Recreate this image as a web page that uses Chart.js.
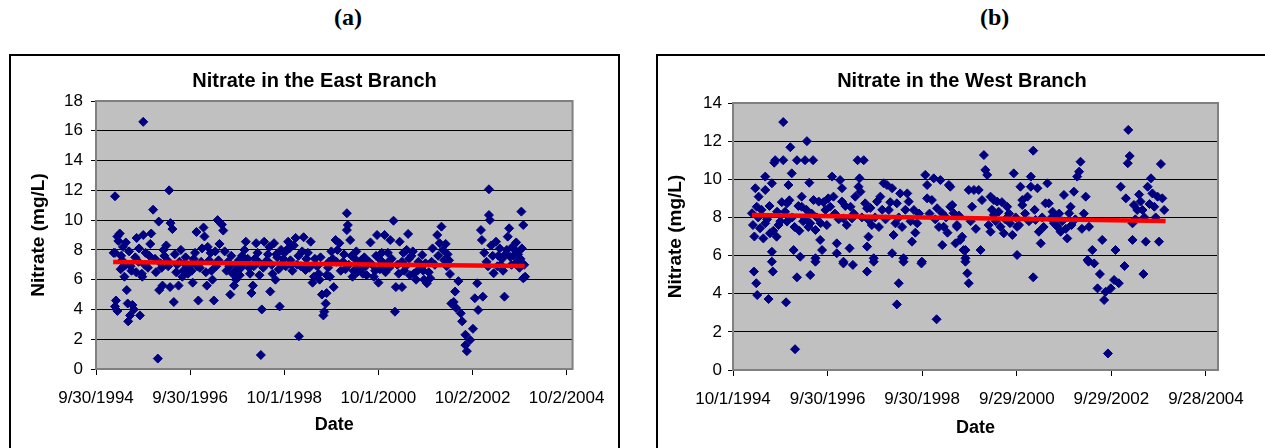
<!DOCTYPE html>
<html>
<head>
<meta charset="utf-8">
<script src="https://cdn.jsdelivr.net/npm/chart.js@4.4.1/dist/chart.umd.min.js"></script>
<style>
html, body { margin: 0; padding: 0; background: #fff; overflow: hidden; }
body { width: 1265px; height: 448px; position: relative; }
.label { position: absolute; top: 4px; line-height: 28px; font: bold 24px "Liberation Serif", "Times New Roman", serif; }
.box { position: absolute; top: 54px; height: 400px; border: 2px solid #000; box-sizing: border-box; }
.box canvas { display: block; }
</style>
</head>
<body>
<div class="label" style="left:334px">(a)</div>
<div class="label" style="left:980px">(b)</div>
<div class="box" style="left:9px;width:611px"><canvas id="east" width="607" height="396"></canvas></div>
<div class="box" style="left:656px;width:612px"><canvas id="west" width="608" height="396"></canvas></div>
<script>
// tick labels of the two date axes (Excel style M/D/YYYY)
var eastTickLabels = ['9/30/1994', '9/30/1996', '10/1/1998', '10/1/2000', '10/2/2002', '10/2/2004'];
var westTickLabels = ['10/1/1994', '9/30/1996', '9/30/1998', '9/29/2000', '9/29/2002', '9/28/2004'];

// samples: [decimal year, nitrate mg/L]
var eastSamples = [
  [1995.12, 7.8], [1995.15, 11.6], [1995.15, 7.8], [1995.17, 4.6], [1995.15, 4.2], [1995.2, 3.9], [1995.2, 8.9],
  [1995.22, 8.6], [1995.25, 9.1], [1995.27, 6.7], [1995.3, 7.3], [1995.32, 8.2], [1995.35, 6.2], [1995.38, 8.5],
  [1995.4, 5.3], [1995.38, 7.0], [1995.42, 4.4], [1995.43, 3.2], [1995.47, 3.6], [1995.5, 6.6], [1995.52, 4.3],
  [1995.55, 4.0], [1995.58, 7.5], [1995.61, 8.8], [1995.65, 7.2], [1995.68, 3.6], [1995.72, 6.4], [1995.73, 6.2],
  [1995.75, 16.6], [1995.75, 9.0], [1995.8, 7.8], [1995.85, 6.8], [1995.9, 8.4], [1995.92, 9.1], [1995.96, 10.7],
  [1996.0, 7.4], [1996.06, 0.7], [1996.08, 9.9], [1996.09, 5.3], [1996.12, 7.1], [1996.16, 5.6], [1996.2, 7.6],
  [1996.24, 8.3], [1996.28, 6.9], [1996.3, 12.0], [1996.32, 5.5], [1996.33, 9.8], [1996.37, 9.4], [1996.4, 4.5],
  [1996.42, 7.7], [1996.45, 6.5], [1996.5, 5.6], [1996.52, 7.2], [1996.55, 8.0], [1996.6, 6.6], [1996.65, 7.5],
  [1996.7, 6.4], [1996.75, 7.0], [1996.8, 5.8], [1996.85, 7.8], [1996.88, 9.2], [1996.92, 4.6], [1996.95, 6.8],
  [1997.0, 8.1], [1997.03, 9.5], [1997.05, 8.9], [1997.1, 5.6], [1997.15, 7.3], [1997.2, 6.6], [1997.25, 4.6],
  [1997.28, 7.9], [1997.3, 6.9], [1997.33, 10.0], [1997.37, 8.4], [1997.42, 9.7], [1997.45, 9.3], [1997.48, 7.9],
  [1997.52, 6.6], [1997.55, 7.2], [1997.6, 5.0], [1997.65, 6.4], [1997.68, 5.6], [1997.72, 6.0], [1997.75, 7.0],
  [1997.8, 6.3], [1997.85, 7.6], [1997.9, 8.0], [1997.93, 8.55], [1998.0, 6.8], [1998.05, 5.1], [1998.08, 5.6],
  [1998.12, 7.4], [1998.15, 8.45], [1998.2, 7.2], [1998.22, 6.3], [1998.25, 0.94], [1998.27, 4.0], [1998.32, 8.55],
  [1998.35, 7.0], [1998.4, 7.7], [1998.45, 5.2], [1998.5, 6.4], [1998.53, 8.45], [1998.56, 6.0], [1998.6, 7.5],
  [1998.65, 4.2], [1998.7, 7.1], [1998.75, 7.8], [1998.8, 8.0], [1998.83, 8.55], [1998.88, 7.3], [1998.92, 6.6],
  [1998.99, 8.8], [1999.05, 7.6], [1999.06, 2.2], [1999.1, 6.9], [1999.16, 8.85], [1999.2, 6.65], [1999.25, 7.8],
  [1999.31, 8.55], [1999.35, 5.8], [1999.4, 7.4], [1999.45, 6.9], [1999.5, 6.0], [1999.55, 5.0], [1999.58, 3.6],
  [1999.6, 3.85], [1999.63, 4.4], [1999.65, 5.1], [1999.65, 6.3], [1999.7, 7.2], [1999.75, 7.9], [1999.8, 5.5],
  [1999.84, 8.66], [1999.88, 8.0], [1999.92, 8.45], [2000.0, 7.2], [2000.05, 6.7], [2000.08, 10.46], [2000.1, 9.67],
  [2000.08, 9.33], [2000.15, 8.66], [2000.2, 6.2], [2000.25, 7.4], [2000.3, 6.5], [2000.35, 7.0], [2000.4, 6.8],
  [2000.45, 7.5], [2000.5, 6.3], [2000.58, 8.5], [2000.62, 7.0], [2000.68, 6.6], [2000.72, 9.0], [2000.75, 5.8],
  [2000.8, 7.3], [2000.84, 6.9], [2000.88, 9.0], [2000.95, 7.8], [2001.0, 8.66], [2001.07, 9.96], [2001.1, 3.85],
  [2001.12, 5.5], [2001.2, 8.55], [2001.25, 7.2], [2001.25, 5.5], [2001.3, 6.6], [2001.35, 8.0], [2001.38, 9.07],
  [2001.45, 7.6], [2001.5, 6.4], [2001.55, 6.0], [2001.6, 7.2], [2001.68, 7.66], [2001.72, 6.0], [2001.78, 5.76],
  [2001.85, 6.1], [2001.9, 8.1], [2002.0, 9.0], [2002.05, 8.45], [2002.09, 9.56], [2002.15, 7.3], [2002.2, 6.9],
  [2002.27, 6.38], [2002.3, 4.4], [2002.35, 4.5], [2002.38, 5.2], [2002.4, 4.1], [2002.45, 5.9], [2002.5, 3.74],
  [2002.53, 3.2], [2002.6, 2.3], [2002.6, 1.6], [2002.63, 1.2], [2002.7, 1.95], [2002.76, 2.7], [2002.8, 4.75],
  [2002.85, 5.76], [2002.87, 3.96], [2002.93, 9.33], [2002.95, 8.66], [2002.97, 4.86], [2003.05, 7.2],
  [2003.1, 12.07], [2003.1, 10.34], [2003.12, 10.0], [2003.2, 6.43], [2003.25, 8.55], [2003.3, 7.6], [2003.35, 7.0],
  [2003.43, 4.86], [2003.48, 8.0], [2003.5, 8.89], [2003.53, 9.45], [2003.55, 7.54], [2003.6, 8.21], [2003.65, 8.0],
  [2003.7, 7.2], [2003.75, 6.8], [2003.79, 10.57], [2003.83, 9.67], [2003.83, 6.09], [2003.85, 7.0],
  [1995.28, 7.6], [1995.33, 6.9], [1995.45, 7.9], [1995.48, 6.9], [1995.6, 6.5], [1995.66, 8.1], [1995.78, 7.0],
  [1995.88, 7.6], [1996.02, 6.5], [1996.14, 6.8], [1996.18, 8.0], [1996.26, 7.3], [1996.47, 7.0], [1996.58, 6.2],
  [1996.62, 7.1], [1996.68, 6.8], [1996.78, 6.6], [1996.82, 7.4], [1996.9, 6.9], [1996.98, 7.2], [1997.08, 6.5],
  [1997.12, 8.2], [1997.18, 7.8], [1997.22, 6.0], [1997.35, 7.3], [1997.58, 6.9], [1997.62, 7.6], [1997.7, 6.6],
  [1997.78, 7.3], [1997.83, 6.8], [1997.88, 7.1], [1997.97, 7.4], [1998.02, 6.4], [1998.1, 6.9], [1998.18, 7.8],
  [1998.3, 6.8], [1998.38, 7.3], [1998.43, 8.2], [1998.48, 7.0], [1998.58, 7.7], [1998.63, 6.7], [1998.68, 8.0],
  [1998.73, 7.4], [1998.78, 6.9], [1998.86, 8.1], [1998.9, 7.0], [1998.95, 8.3], [1999.02, 7.0], [1999.13, 7.9],
  [1999.22, 7.4], [1999.28, 6.8], [1999.38, 6.2], [1999.42, 7.0], [1999.48, 6.4], [1999.52, 7.5], [1999.68, 6.8],
  [1999.72, 6.2], [1999.78, 7.4], [1999.86, 7.2], [1999.95, 6.6], [2000.02, 7.7], [2000.12, 7.0], [2000.18, 7.6],
  [2000.22, 6.6], [2000.28, 7.9], [2000.32, 6.9], [2000.38, 7.3], [2000.42, 6.4], [2000.48, 6.9], [2000.55, 7.2],
  [2000.65, 6.2], [2000.7, 7.6], [2000.78, 6.7], [2000.82, 7.8], [2000.9, 6.5], [2000.93, 7.1], [2000.98, 6.8],
  [2001.03, 7.4], [2001.15, 7.0], [2001.18, 6.4], [2001.28, 7.8], [2001.33, 6.9], [2001.4, 7.4], [2001.42, 6.3],
  [2001.48, 7.9], [2001.58, 6.6], [2001.63, 7.0], [2001.7, 6.6], [2001.75, 7.1], [2001.82, 6.5], [2001.88, 7.2],
  [2001.95, 7.0], [2002.02, 7.6], [2002.12, 8.0], [2002.18, 8.4], [2002.22, 7.7], [2002.25, 7.3], [2003.0, 7.8],
  [2003.08, 6.9], [2003.15, 8.3], [2003.18, 7.6], [2003.28, 6.9], [2003.33, 8.1], [2003.38, 7.4], [2003.4, 6.6],
  [2003.45, 7.7], [2003.58, 7.0], [2003.62, 7.6], [2003.68, 8.5], [2003.72, 7.7], [2003.77, 7.4], [2003.8, 8.1],
  [2003.87, 6.2]
];
var westSamples = [
  [1995.15, 8.22], [1995.19, 5.16], [1995.22, 9.53], [1995.24, 4.55], [1995.25, 8.56], [1995.26, 3.93], [1995.29, 9.09],
  [1995.32, 7.43], [1995.39, 6.9], [1995.43, 10.14], [1995.43, 9.44], [1995.43, 7.69], [1995.5, 3.72], [1995.53, 7.17],
  [1995.57, 6.2], [1995.57, 9.79], [1995.57, 5.68], [1995.59, 5.16], [1995.62, 10.87], [1995.64, 11.0], [1995.67, 6.99],
  [1995.71, 7.6], [1995.81, 13.0], [1995.81, 11.0], [1995.87, 3.55], [1995.89, 7.78], [1995.89, 8.74], [1995.92, 9.7],
  [1995.96, 11.68], [1995.99, 10.31], [1996.03, 6.29], [1996.06, 1.09], [1996.1, 11.0], [1996.1, 4.86], [1996.17, 5.94],
  [1996.2, 9.09], [1996.2, 8.56], [1996.27, 11.0], [1996.27, 7.95], [1996.31, 12.0], [1996.36, 9.82], [1996.38, 7.69],
  [1996.38, 4.98], [1996.44, 11.0], [1996.45, 8.91], [1996.49, 7.34], [1996.49, 5.86], [1996.49, 5.68], [1996.56, 8.83],
  [1996.59, 6.82], [1996.63, 6.29], [1996.7, 8.39], [1996.8, 8.56], [1996.84, 10.14], [1996.87, 9.09], [1996.94, 6.64],
  [1996.94, 6.12], [1997.01, 9.96], [1997.05, 9.53], [1997.05, 8.83], [1997.08, 7.95], [1997.08, 5.68], [1997.08, 5.59],
  [1997.21, 6.38], [1997.23, 8.56], [1997.26, 7.95], [1997.28, 5.51], [1997.33, 9.09], [1997.38, 11.0], [1997.4, 9.61],
  [1997.42, 10.05], [1997.44, 9.35], [1997.51, 11.0], [1997.54, 8.74], [1997.58, 8.48], [1997.58, 6.47], [1997.58, 5.16],
  [1997.61, 7.87], [1997.61, 6.99], [1997.72, 5.86], [1997.72, 5.68], [1997.79, 8.83], [1997.86, 9.09], [1997.93, 9.79],
  [1998.0, 9.7], [1998.04, 8.39], [1998.11, 9.53], [1998.11, 6.12], [1998.14, 7.08], [1998.18, 7.69], [1998.21, 8.74],
  [1998.21, 3.44], [1998.25, 4.55], [1998.28, 9.26], [1998.35, 5.86], [1998.35, 5.68], [1998.43, 9.26], [1998.46, 8.83],
  [1998.53, 6.73], [1998.57, 8.39], [1998.64, 7.69], [1998.73, 5.59], [1998.74, 5.68], [1998.81, 10.23], [1998.85, 9.7],
  [1998.85, 9.0], [1998.95, 8.91], [1998.99, 10.05], [1999.05, 2.66], [1999.06, 8.48], [1999.13, 9.96], [1999.17, 8.22],
  [1999.17, 6.55], [1999.2, 7.51], [1999.31, 9.7], [1999.34, 8.56], [1999.34, 9.61], [1999.38, 8.65], [1999.41, 8.22],
  [1999.45, 6.64], [1999.48, 7.6], [1999.48, 7.51], [1999.55, 6.82], [1999.59, 6.99], [1999.62, 6.29], [1999.66, 5.86],
  [1999.66, 6.29], [1999.66, 5.68], [1999.7, 5.07], [1999.73, 9.44], [1999.73, 4.55], [1999.8, 8.56], [1999.84, 9.44],
  [1999.94, 9.44], [1999.98, 6.29], [2000.01, 8.91], [2000.05, 11.27], [2000.08, 10.49], [2000.12, 10.23], [2000.15, 7.6],
  [2000.19, 9.09], [2000.19, 7.25], [2000.26, 8.91], [2000.26, 8.13], [2000.33, 8.83], [2000.4, 7.51], [2000.47, 7.17],
  [2000.54, 8.56], [2000.65, 7.08], [2000.68, 10.31], [2000.75, 7.51], [2000.75, 6.03], [2000.82, 9.61], [2000.86, 8.91],
  [2000.86, 8.65], [2000.97, 9.09], [2001.04, 10.14], [2001.04, 9.61], [2001.09, 11.5], [2001.09, 4.86], [2001.14, 7.87],
  [2001.18, 9.53], [2001.21, 7.25], [2001.25, 6.64], [2001.35, 8.74], [2001.39, 9.79], [2001.42, 8.74], [2001.46, 7.95],
  [2001.53, 7.69], [2001.6, 7.51], [2001.67, 7.25], [2001.74, 9.18], [2001.81, 6.9], [2001.85, 8.22], [2001.88, 8.56],
  [2001.9, 7.6], [2001.95, 9.35], [2001.98, 7.9], [2002.02, 10.14], [2002.06, 10.4], [2002.09, 10.92], [2002.12, 7.4],
  [2002.16, 8.2], [2002.2, 9.09], [2002.24, 5.77], [2002.26, 5.68], [2002.27, 7.51], [2002.34, 6.29], [2002.38, 5.59],
  [2002.45, 4.28], [2002.5, 5.03], [2002.55, 6.82], [2002.59, 3.67], [2002.62, 4.1], [2002.67, 0.87], [2002.73, 4.28],
  [2002.8, 4.72], [2002.83, 6.29], [2002.9, 4.55], [2002.94, 9.61], [2003.02, 5.45], [2003.05, 9.0], [2003.09, 10.84],
  [2003.1, 12.59], [2003.13, 11.22], [2003.19, 7.69], [2003.19, 6.82], [2003.22, 8.65], [2003.29, 8.39], [2003.36, 8.83],
  [2003.4, 8.39], [2003.42, 5.03], [2003.47, 6.73], [2003.51, 9.61], [2003.58, 10.05], [2003.61, 9.26], [2003.65, 8.56],
  [2003.72, 9.09], [2003.75, 6.73], [2003.79, 10.8], [2003.86, 8.39],
  [1995.17, 7.6], [1995.2, 7.0], [1995.28, 8.0], [1995.35, 8.4], [1995.47, 7.9], [1995.52, 8.6], [1995.6, 7.3],
  [1995.68, 8.3], [1995.75, 7.8], [1995.78, 8.8], [1995.85, 8.3], [1995.94, 8.9], [1996.0, 8.0], [1996.05, 7.5],
  [1996.13, 8.6], [1996.15, 7.3], [1996.23, 7.8], [1996.3, 8.4], [1996.34, 7.5], [1996.41, 8.2], [1996.52, 8.0],
  [1996.6, 7.7], [1996.66, 8.8], [1996.73, 7.6], [1996.76, 9.0], [1996.9, 8.2], [1996.98, 7.9], [1997.12, 8.6],
  [1997.15, 7.6], [1997.3, 8.2], [1997.47, 8.0], [1997.65, 8.5], [1997.68, 7.6], [1997.75, 8.0], [1997.83, 7.5],
  [1997.9, 8.4], [1997.97, 7.9], [1998.07, 8.8], [1998.25, 8.0], [1998.32, 7.5], [1998.39, 8.4], [1998.5, 7.8],
  [1998.6, 7.2], [1998.68, 8.2], [1998.9, 8.2], [1999.02, 7.9], [1999.1, 7.5], [1999.25, 8.0], [1999.28, 7.2],
  [1999.52, 8.1], [1999.77, 7.8], [1999.88, 7.4], [2000.22, 8.4], [2000.3, 7.8], [2000.36, 8.3], [2000.43, 8.8],
  [2000.5, 7.9], [2000.58, 8.2], [2000.6, 7.7], [2000.72, 8.0], [2000.79, 7.6], [2000.92, 8.2], [2001.0, 7.8],
  [2001.12, 8.4], [2001.28, 8.0], [2001.31, 7.5], [2001.5, 8.3], [2001.57, 8.0], [2001.64, 8.2], [2001.7, 7.8],
  [2001.78, 7.4], [2003.25, 7.9], [2003.33, 9.2], [2003.44, 8.0], [2003.55, 8.7], [2003.68, 8.0], [2003.82, 9.0]
];

// linear trend lines, end points
var eastTrend = [[1995.11, 7.18], [2003.86, 6.92]];
var westTrend = [[1995.15, 8.13], [2003.89, 7.81]];

var FONT = '"Liberation Sans", Arial, sans-serif';

function dayOfDate(s) {
  var p = s.split('/').map(Number);
  return Date.UTC(p[2], p[0] - 1, p[1]) / 864e5;
}
function dayOfYear(t) {
  var y = Math.floor(t);
  var a = Date.UTC(y, 0, 1) / 864e5, b = Date.UTC(y + 1, 0, 1) / 864e5;
  return a + (t - y) * (b - a);
}
function toXY(list) {
  return list.map(function (p) { return { x: dayOfYear(p[0]), y: p[1] }; });
}

// grey plot area with a grey frame, like the Excel chart
var plotFrame = {
  id: 'plotFrame',
  beforeDraw: function (chart) {
    var a = chart.chartArea, ctx = chart.ctx;
    ctx.save();
    ctx.fillStyle = '#c0c0c0';
    ctx.fillRect(a.left, a.top, a.right - a.left, a.bottom - a.top);
    ctx.restore();
  },
  beforeDatasetsDraw: function (chart) {
    var a = chart.chartArea, ctx = chart.ctx;
    ctx.save();
    ctx.strokeStyle = '#808080';
    ctx.lineWidth = 2;
    ctx.strokeRect(a.left, a.top, a.right - a.left, a.bottom - a.top);
    ctx.restore();
  }
};

function makeChart(id, o) {
  var tickDays = o.tickLabels.map(dayOfDate);
  return new Chart(document.getElementById(id), {
    type: 'scatter',
    data: {
      datasets: [{
        data: toXY(o.trend),
        showLine: true,
        borderColor: '#ff0000',
        borderWidth: 4.5,
        pointRadius: 0
      }, {
        data: toXY(o.samples),
        pointStyle: 'rectRot',
        pointRadius: 4.5,
        pointBackgroundColor: '#000080',
        pointBorderColor: '#000080',
        pointBorderWidth: 1
      }]
    },
    options: {
      responsive: false,
      animation: false,
      layout: { padding: 0 },
      plugins: {
        legend: { display: false },
        tooltip: { enabled: false },
        title: {
          display: true,
          text: o.title,
          color: '#000',
          font: { family: FONT, size: 20, weight: 'bold' },
          padding: { top: 13, bottom: o.titleGap }
        }
      },
      scales: {
        x: {
          type: 'linear',
          min: dayOfDate(o.xMin),
          max: dayOfDate(o.xMax),
          afterBuildTicks: function (scale) {
            scale.ticks = tickDays.map(function (v) { return { value: v }; });
          },
          afterFit: function (scale) { scale.height = o.xHeight; },
          ticks: {
            autoSkip: false,
            maxRotation: 0,
            color: '#000',
            padding: 13,
            font: { family: FONT, size: 17 },
            callback: function (v) {
              var i = tickDays.indexOf(v);
              return i >= 0 ? o.tickLabels[i] : '';
            }
          },
          grid: { drawOnChartArea: false, tickLength: 6, tickColor: '#000' },
          border: { color: '#808080', width: 2 },
          title: {
            display: true,
            text: 'Date',
            color: '#000',
            font: { family: FONT, size: 18, weight: 'bold' },
            padding: { top: 0, bottom: o.dateGap }
          }
        },
        y: {
          min: 0,
          max: o.yMax,
          afterFit: function (scale) { scale.width = o.yWidth; },
          ticks: {
            stepSize: 2,
            color: '#000',
            padding: o.yTickPad,
            font: { family: FONT, size: 17 }
          },
          grid: { color: '#000', lineWidth: 1, tickLength: 5 },
          border: { color: '#808080', width: 2 },
          title: {
            display: true,
            text: 'Nitrate (mg/L)',
            color: '#000',
            font: { family: FONT, size: 19, weight: 'bold' },
            padding: { top: o.yTitlePad, bottom: 0 }
          }
        },
        // empty right-hand axis only used to reserve the white margin
        pad: {
          type: 'linear',
          axis: 'y',
          position: 'right',
          ticks: { display: false },
          grid: { display: false },
          border: { display: false },
          afterFit: function (scale) { scale.width = o.rightGap; }
        }
      }
    },
    plugins: [plotFrame]
  });
}

makeChart('east', {
  title: 'Nitrate in the East Branch',
  samples: eastSamples, trend: eastTrend, tickLabels: eastTickLabels,
  xMin: '9/30/1994', xMax: '11/17/2004', yMax: 18,
  titleGap: 8, xHeight: 83, yWidth: 85, rightGap: 43,
  dateGap: 16, yTickPad: 8, yTitlePad: 16
});
makeChart('west', {
  title: 'Nitrate in the West Branch',
  samples: westSamples, trend: westTrend, tickLabels: westTickLabels,
  xMin: '10/1/1994', xMax: '12/30/2004', yMax: 14,
  titleGap: 10, xHeight: 82, yWidth: 75, rightGap: 48,
  dateGap: 13, yTickPad: 6, yTitlePad: 6
});
</script>
</body>
</html>
